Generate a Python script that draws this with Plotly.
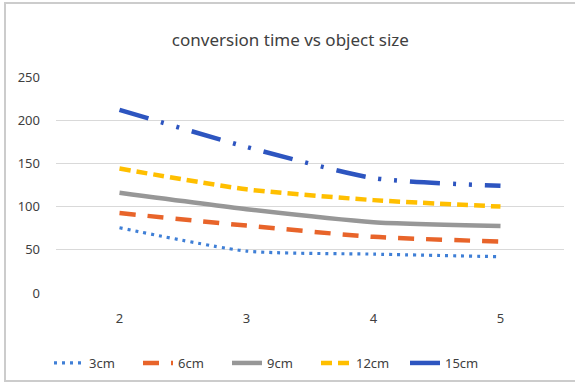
import plotly.graph_objects as go

categories = ["2", "3", "4", "5"]
series_names = ["3cm", "6cm", "9cm", "12cm", "15cm"]
s3cm = [75.5, 48.5, 45, 42]
s6cm = [92.5, 78, 65, 59.5]
s9cm = [116, 97, 82, 77.5]
s12cm = [144, 120, 107.5, 100]
s15cm = [212, 169, 133, 124]
y_ticks = [0, 50, 100, 150, 200, 250]

values = [s3cm, s6cm, s9cm, s12cm, s15cm]
colors = ["#3f7fd6", "#e8642a", "#979797", "#ffbf00", "#2d55c0"]
dashes = ["3px,5px", "16px,12px", "solid", "11px,6px", "30px,13px,3px,13px,3px,13px"]
widths = [3.2, 4.5, 4.5, 4.5, 4.5]

fig = go.Figure()
for name, vals, c, d, w in zip(series_names, values, colors, dashes, widths):
    fig.add_trace(go.Scatter(
        x=categories, y=vals, name=name, mode="lines",
        line=dict(color=c, dash=d, width=w, shape="spline", smoothing=0.6),
    ))

fig.update_layout(
    width=575, height=385,
    margin=dict(l=56, r=11, t=77, b=92, autoexpand=False),
    paper_bgcolor="white", plot_bgcolor="white",
    font=dict(family="Noto Sans, DejaVu Sans, sans-serif", color="#595959", size=13),
    title=dict(text="conversion time vs object size", x=0.505, xanchor="center",
               y=1 - 40 / 385, yanchor="middle",
               font=dict(size=17, color="#404040")),
    showlegend=True,
    legend=dict(orientation="h", x=-7 / 508, xanchor="left", y=-70 / 216, yanchor="middle",
                font=dict(size=13, color="#404040"), itemwidth=30, tracegroupgap=0,
                entrywidth=44, entrywidthmode="pixels"),
    xaxis=dict(type="category", range=[-0.5, 3.5], showgrid=False, zeroline=False,
               showline=False, ticks="", tickfont=dict(color="#404040"),
               ticklabelstandoff=16),
    yaxis=dict(range=[0, 250], tickvals=y_ticks, showgrid=True, gridcolor="#d9d9d9",
               gridwidth=1.2, zeroline=False, showline=False, ticks="",
               tickfont=dict(color="#404040"), ticklabelstandoff=15),
    shapes=[dict(type="rect", xref="paper", yref="paper",
                 x0=-51 / 508, x1=1 + 20 / 508, y0=-88 / 216, y1=1 + 74 / 216,
                 line=dict(color="#cccccc", width=2))],
)

fig.write_html("out.html", config={"displayModeBar": False},
               post_script="document.body.style.margin='0';")
